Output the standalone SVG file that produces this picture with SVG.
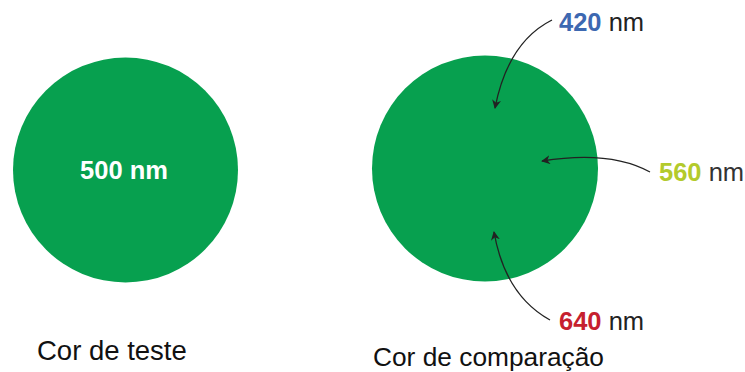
<svg xmlns="http://www.w3.org/2000/svg" width="745" height="372" viewBox="0 0 745 372">
<style>
.c{fill:#07a04f}
.t{font-family:"Liberation Sans",Arial,sans-serif;font-size:25.5px}
.b{font-weight:bold}
.cap{font-family:"Liberation Sans",Arial,sans-serif;font-size:26.3px;fill:#111}
.a{fill:none;stroke:#222;stroke-width:1.3;marker-end:url(#ah)}
</style>
<defs>
<marker id="ah" viewBox="0 0 10 10" refX="9" refY="5" markerWidth="9" markerHeight="9" orient="auto" markerUnits="userSpaceOnUse">
<path d="M0,0 L10,5 L0,10 L3,5 Z" fill="#222"/>
</marker>
</defs>
<rect width="745" height="372" fill="#fff"/>
<g id="test">
<circle class="c" cx="125.5" cy="170" r="112.5"/>
<text class="t b" x="124" y="179" text-anchor="middle" fill="#fff">500 nm</text>
<text class="cap" x="37" y="360" style="font-size:27.5px">Cor de teste</text>
</g>
<g id="comparison">
<circle class="c" cx="485" cy="168.5" r="113"/>
<text class="cap" x="373" y="366">Cor de comparação</text>
</g>
<g id="l420"><text class="t" x="559" y="31"><tspan class="b" fill="#3d68b1">420</tspan><tspan fill="#222"> nm</tspan></text></g>
<g id="l560"><text class="t" x="659" y="181"><tspan class="b" fill="#b3ca2c">560</tspan><tspan fill="#333"> nm</tspan></text></g>
<g id="l640"><text class="t" x="559" y="330"><tspan class="b" fill="#c6202e">640</tspan><tspan fill="#222"> nm</tspan></text></g>
<g id="connectors">
<path class="a" d="M552,20 Q508,42 495,108"/>
<path class="a" d="M650,172 Q610,150 542,161"/>
<path class="a" d="M550,320 Q505,295 494,232"/>
</g>
</svg>
